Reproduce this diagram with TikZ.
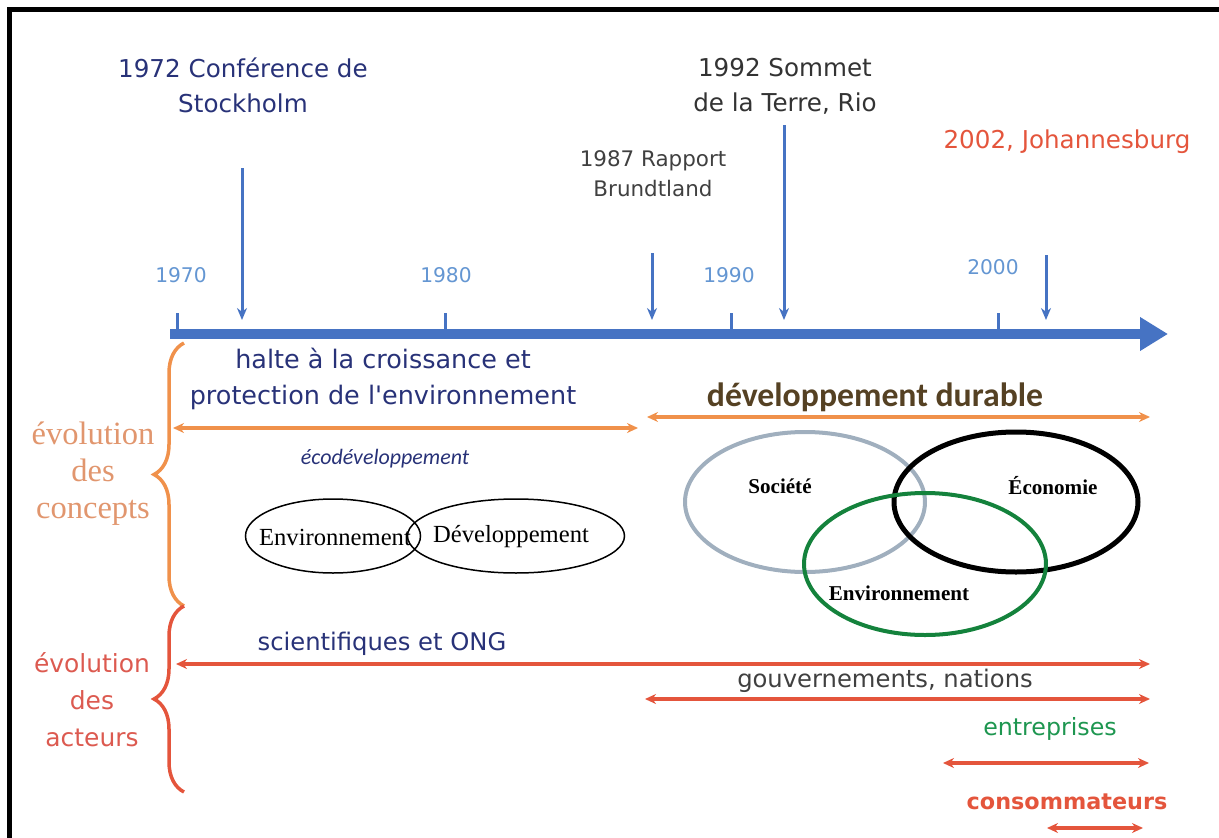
\documentclass[tikz,border=0pt]{standalone}
\usepackage{fontspec}
\setmainfont{DejaVu Sans}
\newfontfamily\halteface{DejaVu Sans}
\newfontfamily\timesfont{Liberation Serif}
\newfontfamily\calibfont{Carlito}
\usetikzlibrary{arrows.meta,shapes.geometric,decorations.pathreplacing}
\definecolor{axisblue}{RGB}{70,115,195}
\definecolor{yearblue}{RGB}{100,150,210}
\definecolor{navy}{RGB}{40,50,120}
\definecolor{conceptorange}{RGB}{240,145,75}
\definecolor{concepttext}{RGB}{225,150,110}
\definecolor{actorred}{RGB}{228,85,60}
\definecolor{actortext}{RGB}{220,90,80}
\definecolor{durbrown}{RGB}{85,65,35}
\definecolor{venngray}{RGB}{160,175,190}
\definecolor{venngreen}{RGB}{20,130,60}
\definecolor{entgreen}{RGB}{30,150,80}

\begin{document}
\begin{tikzpicture}[x=0.2mm, y=-0.2mm,
	evtxt/.style={inner sep=0pt, align=center, font=\fontsize{14}{20}\selectfont},
	yeartxt/.style={inner sep=0pt, text=yearblue, font=\fontsize{11.5}{14}\selectfont},
	tickmark/.style={axisblue, line width=0.6mm},
	droparrow/.style={axisblue, line width=0.6mm, -{Stealth[length=2.4mm,width=2mm]}},
	spanarrow/.style={line width=0.7mm, {Stealth[length=2.2mm,width=2mm]}-{Stealth[length=2.2mm,width=2mm]}},
	vennlbl/.style={inner sep=0pt, font=\timesfont\bfseries\fontsize{12}{14}\selectfont},
	bracestyle/.style={decorate, decoration={brace, amplitude=6mm}, line width=0.7mm}]
	\useasboundingbox (0,0) rectangle (1219,838);
	\draw[line width=0.9mm] (9.5,838) -- (9.5,9.5) -- (1219,9.5);

	% axe du temps
	\coordinate (t0) at (170,334);
	\coordinate (tEnd) at (1168,334);
	\draw[axisblue, line width=2mm, -{Triangle[length=5.6mm,width=6.4mm]}] (t0) -- (tEnd);
	\foreach \x/\lx/\ly/\yr in {177/181/275/1970, 445/446/275/1980, 731/729/275/1990, 998/993/267/2000}{
		\coordinate (tk\yr) at (\x,313);
		\coordinate (tb\yr) at (\x,331);
		\draw[tickmark] (tk\yr) -- (tb\yr);
		\node[yeartxt] (y\yr) at (\lx,\ly) {\yr};
	}

	% evenements
	\node[evtxt, text=navy] (stockholm) at (243,85) {1972 Conférence de\\Stockholm};
	\node[evtxt, text=black!80] (rio) at (785,86) {1992 Sommet\\de la Terre, Rio};
	\node[evtxt, text=black!75, font=\fontsize{12.2}{17}\selectfont] (brundtland) at (653,174) {1987 Rapport\\Brundtland};
	\node[evtxt, text=actorred] (joburg) at (1067,142) {2002, Johannesburg};
	\foreach \x/\top/\n in {242/168/1972, 652/253/1987, 784/125/1992, 1046/255/2002}{
		\coordinate (ev\n) at (\x,\top);
		\coordinate (ax\n) at (\x,320);
		\draw[droparrow] (ev\n) -- (ax\n);
	}

	% concepts
	\draw[bracestyle, conceptorange] (184,606) -- (184,343);
	\node[inner sep=0pt, align=center, text=concepttext, font=\timesfont\fontsize{18.5}{21}\selectfont] (concepts) at (93,474) {évolution\\des\\concepts};
	\node[inner sep=0pt, align=center, text=navy, font=\halteface\fontsize{14.5}{21}\selectfont] (halte) at (383,379) {halte à la croissance et\\protection de l'environnement};
	\coordinate (h0) at (173,428);
	\coordinate (h1) at (638,428);
	\draw[spanarrow, conceptorange] (h0) -- (h1);
	\node[inner sep=0pt, text=navy, font=\calibfont\itshape\fontsize{12.5}{14}\selectfont] (ecodev) at (385,459) {écodéveloppement};
	\node[ellipse, draw, line width=0.3mm, minimum width=35mm, minimum height=14.8mm, inner sep=0pt] (envL) at (333,536) {};
	\node[ellipse, draw, line width=0.3mm, minimum width=43.4mm, minimum height=14.8mm, inner sep=0pt] (devL) at (516,536) {};
	\node[inner sep=0pt, font=\timesfont\fontsize{14}{16}\selectfont] (envtxt) at (335,537) {Environnement};
	\node[inner sep=0pt, font=\timesfont\fontsize{14}{16}\selectfont] (devtxt) at (511,537) {Développement};

	\node[inner sep=0pt, text=durbrown, font=\calibfont\bfseries\fontsize{19.2}{22}\selectfont] (durable) at (875,397) {développement durable};
	\coordinate (d0) at (647,417);
	\coordinate (d1) at (1150,417);
	\draw[spanarrow, conceptorange] (d0) -- (d1);
	\draw[venngray, line width=0.8mm] (805,502) ellipse [x radius=120, y radius=70];
	\draw[black, line width=1mm] (1016,502) ellipse [x radius=122, y radius=70];
	\draw[venngreen, line width=0.8mm] (925,564) ellipse [x radius=121, y radius=71];
	\node[vennlbl] (societe) at (780,486) {Société};
	\node[vennlbl] (economie) at (1053,486) {Économie};
	\node[vennlbl] (envir) at (899,593) {Environnement};

	% acteurs
	\draw[bracestyle, actorred] (184,792) -- (184,606);
	\node[inner sep=0pt, align=center, text=actortext, font=\fontsize{14.2}{21}\selectfont] (acteurs) at (92,700) {évolution\\des\\acteurs};
	\node[inner sep=0pt, text=navy, font=\fontsize{13.8}{16}\selectfont] (ong) at (382,644) {scientifiques et ONG};
	\node[inner sep=0pt, text=black!75, font=\fontsize{13.8}{16}\selectfont] (gouv) at (885,681) {gouvernements, nations};
	\node[inner sep=0pt, text=entgreen, font=\fontsize{13.5}{16}\selectfont] (entr) at (1050,729) {entreprises};
	\node[inner sep=0pt, text=actorred, font=\bfseries\fontsize{12.7}{16}\selectfont] (conso) at (1067,802) {consommateurs};
	\foreach \a/\b/\yy/\n in {176/1150/664/ong, 645/1150/699/gouv, 943/1149/763/entr, 1047/1143/828/conso}{
		\coordinate (s\n) at (\a,\yy);
		\coordinate (e\n) at (\b,\yy);
		\draw[spanarrow, actorred] (s\n) -- (e\n);
	}
\end{tikzpicture}
\end{document}
